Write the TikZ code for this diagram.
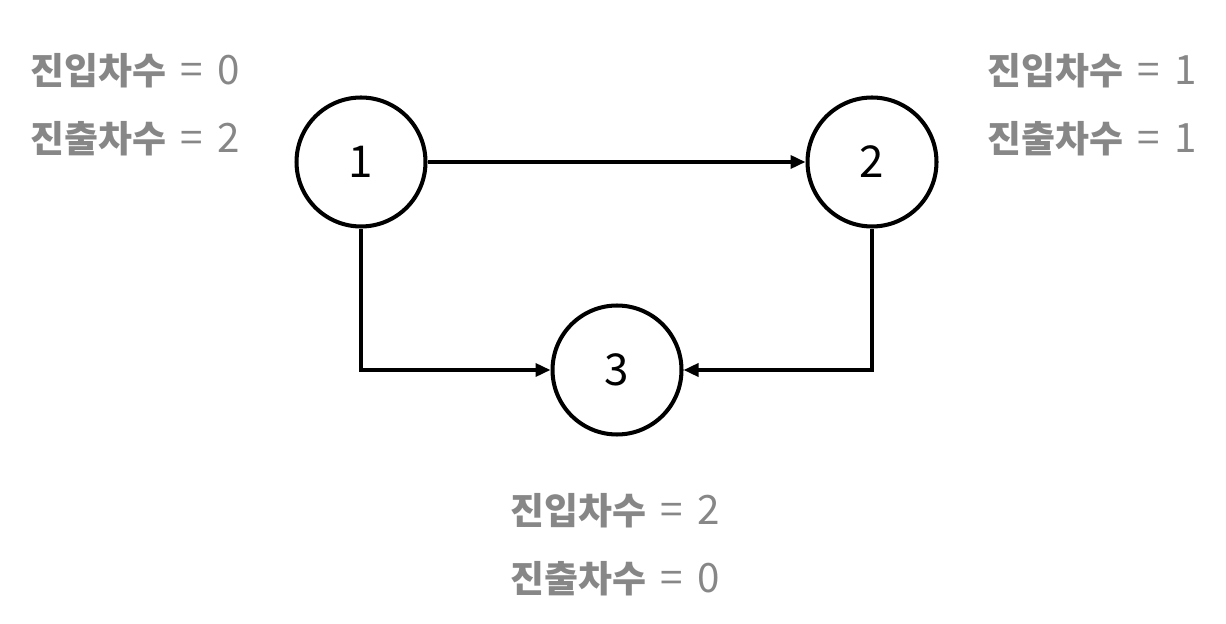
\documentclass[tikz,border=0pt]{standalone}
\usepackage{fontspec}
\setmainfont{Noto Sans CJK KR}
\usepackage{tikz}
\usetikzlibrary{arrows.meta, positioning}
\definecolor{degreegray}{RGB}{135,135,135}
\tikzset{
    vertex/.style={circle, draw=black, line width=2.3pt, minimum size=2.58cm,
                   inner sep=0pt, font=\fontsize{25}{28}\selectfont},
    degree/.style={text=degreegray, font=\fontsize{21}{24}\selectfont, inner sep=0pt},
    arrow/.style={line width=2pt, -{Triangle[length=3mm, width=2.6mm]}}
}
\newcommand{\degtext}[2]{\textbf{#1}{\fontsize{23}{24}\selectfont\hspace{0.35em}=\hspace{0.35em}#2}}

\begin{document}
\begin{tikzpicture}[x=0.02cm, y=-0.02cm]
    \useasboundingbox (0,0) rectangle (1226,624);

    % Vertices
    \node[vertex] (n1) at (361,162) {1};
    \node[vertex] (n2) at (872,162) {2};
    \node[vertex] (n3) at (617,370) {3};

    % Edges
    \draw[arrow] (n1) -- (n2);
    \draw[arrow] (n1) |- (n3);
    \draw[arrow] (n2) |- (n3);

    % Degree labels
    \node[degree] (in1)  at (135,71)  {\degtext{진입차수}{0}};
    \node[degree] (out1) at (135,139) {\degtext{진출차수}{2}};
    \node[degree] (in2)  at (1092,71)  {\degtext{진입차수}{1}};
    \node[degree] (out2) at (1092,139) {\degtext{진출차수}{1}};
    \node[degree] (in3)  at (615,511) {\degtext{진입차수}{2}};
    \node[degree] (out3) at (615,579) {\degtext{진출차수}{0}};
\end{tikzpicture}
\end{document}
